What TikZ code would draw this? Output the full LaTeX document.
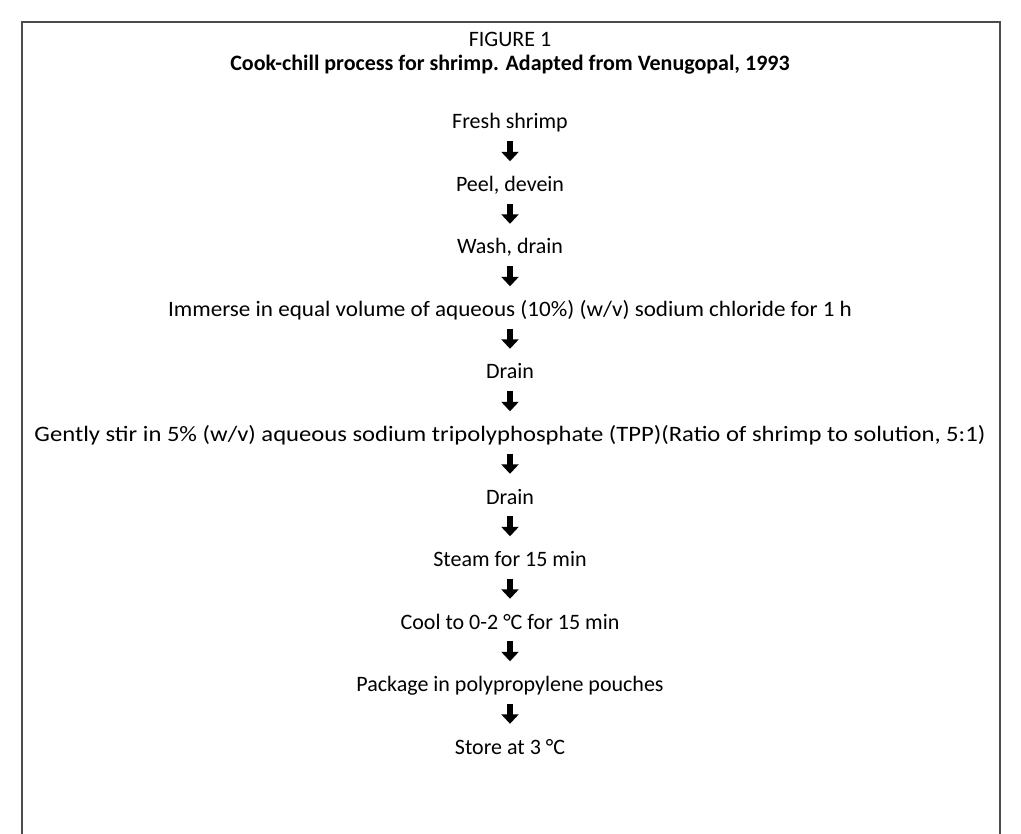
\documentclass[tikz,border=0pt]{standalone}
\usepackage{fontspec}
\setmainfont{Carlito}
\usetikzlibrary{arrows.meta}
\begin{document}
\begin{tikzpicture}[x=1pt,y=1pt,
  stepnode/.style={inner sep=0pt, text height=15pt, text depth=5pt, font=\fontsize{22}{25}\selectfont},
  flow/.style={line width=5.5pt, -{Triangle[width=17pt,length=9.5pt]}, shorten <=7pt, shorten >=15pt},
  frame/.style={draw=black!70, line width=1.6pt}]
\useasboundingbox (0,0) rectangle (1021,-834);
\draw[frame] (22,-834) -- (22,-22) -- (1000,-22) -- (1000,-834);
\node[stepnode] (fig) at (510,-42) {FIGURE 1};
\node[stepnode, font=\fontsize{22}{25}\selectfont\bfseries] (title) at (510,-66) {Cook-chill process for shrimp. Adapted from Venugopal, 1993};
\node[stepnode] (s0) at (510,-124) {Fresh shrimp};
\node[stepnode] (s1) at (510,-186.5) {Peel, devein};
\node[stepnode] (s2) at (510,-249) {Wash, drain};
\node[stepnode] (s3) at (510,-311.5) {\scalebox{1.05}[1]{Immerse in equal volume of aqueous (10\%) (w/v) sodium chloride for 1 h}};
\node[stepnode] (s4) at (510,-374) {Drain};
\node[stepnode] (s5) at (510,-436.5) {\scalebox{1.12}[1]{Gently stir in 5\% (w/v) aqueous sodium tripolyphosphate (TPP)(Ratio of shrimp to solution, 5:1)}};
\node[stepnode] (s6) at (510,-499) {Drain};
\node[stepnode] (s7) at (510,-561.5) {Steam for 15 min};
\node[stepnode] (s8) at (510,-624) {Cool to 0-2 °C for 15 min};
\node[stepnode] (s9) at (510,-686.5) {Package in polypropylene pouches};
\node[stepnode] (s10) at (510,-749) {Store at 3 °C};
\foreach \a/\b in {s0/s1,s1/s2,s2/s3,s3/s4,s4/s5,s5/s6,s6/s7,s7/s8,s8/s9,s9/s10}
  \draw[flow] (\a) -- (\b);
\end{tikzpicture}
\end{document}
